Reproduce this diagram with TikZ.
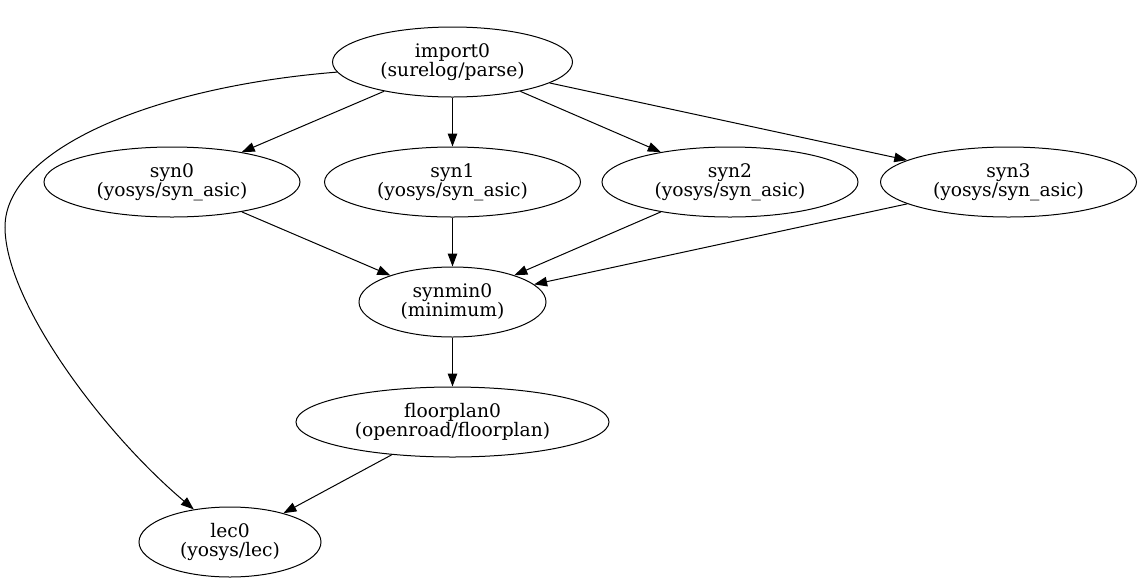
\documentclass[tikz,border=0pt]{standalone}
\usepackage{fontspec}
\setmainfont{DejaVu Serif}
\usetikzlibrary{shapes.geometric,arrows.meta}
\begin{document}
\begin{tikzpicture}[x=1pt,y=-1pt,
  gnode/.style={draw,ellipse,inner sep=0pt,line width=1pt,align=center,minimum height=70pt,
    font=\fontsize{18.67}{19}\selectfont},
  edge/.style={line width=1pt,-{Triangle[length=13pt,width=9.5pt]}}]
\useasboundingbox (0,0) rectangle (1141,582);
\node[gnode,minimum width=240pt] (import0) at (452.5,62) {import0\\(surelog/parse)};
\node[gnode,minimum width=256pt] (syn0) at (172,182) {syn0\\(yosys/syn\_asic)};
\node[gnode,minimum width=256pt] (syn1) at (452.5,182) {syn1\\(yosys/syn\_asic)};
\node[gnode,minimum width=256pt] (syn2) at (730,182) {syn2\\(yosys/syn\_asic)};
\node[gnode,minimum width=256pt] (syn3) at (1008.5,182) {syn3\\(yosys/syn\_asic)};
\node[gnode,minimum width=187pt] (synmin0) at (452.5,302) {synmin0\\(minimum)};
\node[gnode,minimum width=313pt] (floorplan0) at (452.5,422) {floorplan0\\(openroad/floorplan)};
\node[gnode,minimum width=182pt] (lec0) at (230,542) {lec0\\(yosys/lec)};
\coordinate (bend) at (5,227);
\draw[edge] (import0) -- (syn0);
\draw[edge] (import0) -- (syn1);
\draw[edge] (import0) -- (syn2);
\draw[edge] (import0) -- (syn3);
\draw[edge] (import0.185) .. controls (151,87) and (5,150) .. (bend) .. controls (5,300) and (100,430) .. (lec0.138);
\draw[edge] (syn0) -- (synmin0);
\draw[edge] (syn1) -- (synmin0);
\draw[edge] (syn2) -- (synmin0);
\draw[edge] (syn3) -- (synmin0);
\draw[edge] (synmin0) -- (floorplan0);
\draw[edge] (floorplan0) -- (lec0);
\end{tikzpicture}
\end{document}
